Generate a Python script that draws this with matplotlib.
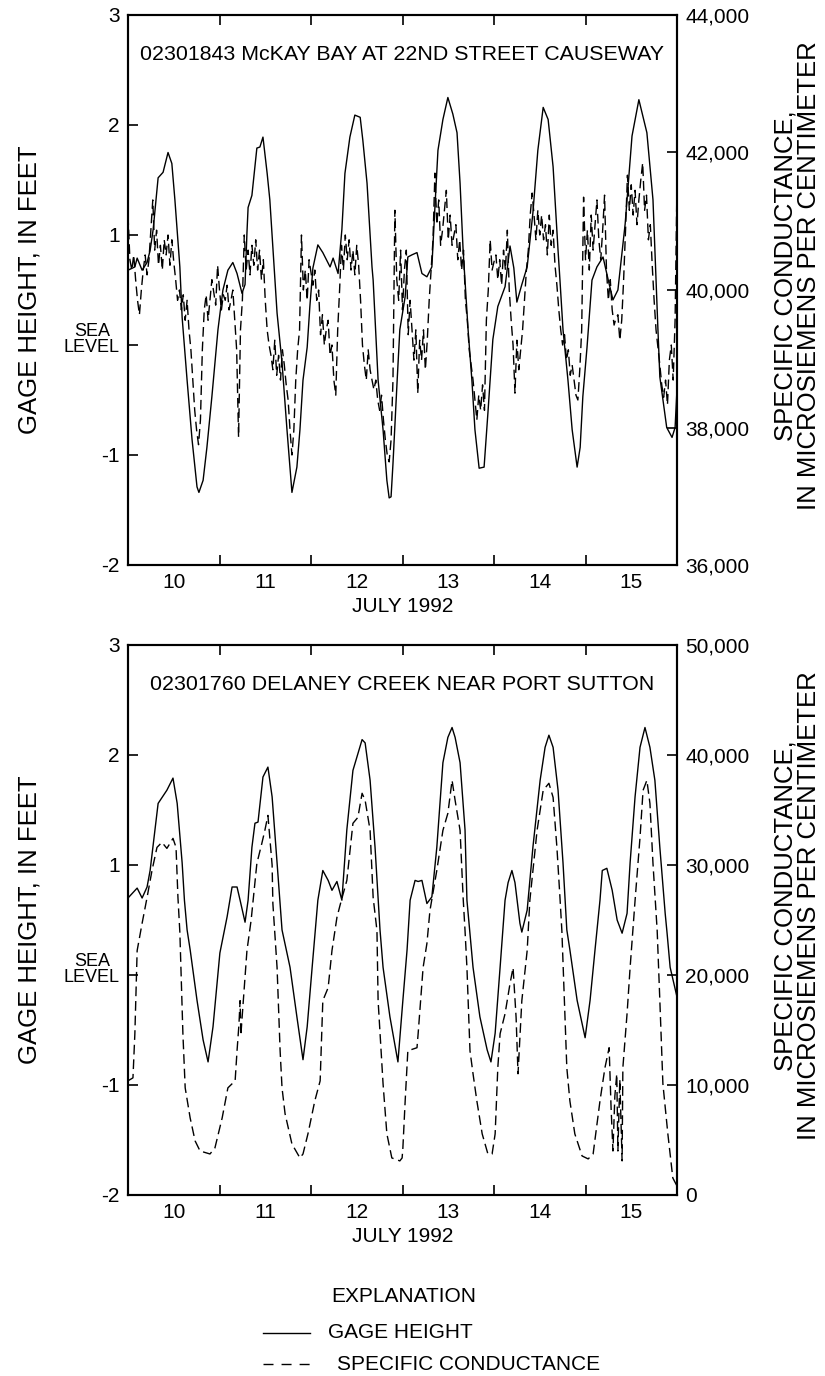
import numpy as np
import matplotlib.pyplot as plt
from matplotlib.lines import Line2D
from matplotlib.ticker import FuncFormatter

plt.rcParams['font.family'] = ['Liberation Sans', 'DejaVu Sans']

# time is hours since 00:00 July 10, 1992
days = ['10', '11', '12', '13', '14', '15']

# 02301843 McKay Bay - gage height (hour, feet)
mckay_gage = [
    (0, 0.68), (1.8, 0.71), (2.4, 0.79), (3.7, 0.68), (5.0, 0.75), (5.8, 0.86),
    (6.6, 1.05), (7.6, 1.41), (7.9, 1.52), (9.2, 1.57), (10.5, 1.75), (11.5, 1.65),
    (12.3, 1.32), (13.6, 0.71), (14.2, 0.25), (15.5, -0.32), (16.8, -0.86),
    (18.1, -1.29), (18.6, -1.34), (19.7, -1.23), (20.7, -0.93), (22.0, -0.47),
    (23.6, 0.14), (24.9, 0.50), (26.2, 0.68), (27.5, 0.75), (28.6, 0.65),
    (29.9, 0.47), (30.7, 0.55), (31.2, 1.02), (31.5, 1.25), (32.5, 1.36),
    (33.8, 1.79), (34.6, 1.80), (35.4, 1.89), (36.5, 1.56), (37.2, 1.32),
    (38.6, 0.56), (39.1, 0.29), (40.4, -0.16), (41.7, -0.77), (43.0, -1.34),
    (44.3, -1.11), (45.1, -0.77), (45.9, -0.32), (47.0, -0.02), (47.7, 0.35),
    (48.5, 0.70), (49.8, 0.91), (51.1, 0.84), (53.0, 0.71), (53.8, 0.79),
    (55.1, 0.65), (56.1, 1.05), (56.9, 1.56), (58.2, 1.89), (59.5, 2.09),
    (60.9, 2.07), (61.6, 1.86), (62.7, 1.47), (64.0, 0.71), (64.3, 0.59),
    (65.6, -0.32), (66.9, -0.77), (67.9, -1.23), (68.5, -1.39), (69.0, -1.38),
    (69.5, -1.08), (70.6, -0.32), (71.3, 0.14), (72.7, 0.44), (73.4, 0.80),
    (74.5, 0.82), (75.8, 0.84), (77.1, 0.65), (78.4, 0.62), (79.7, 0.71),
    (80.5, 1.25), (81.3, 1.77), (82.6, 2.05), (83.9, 2.25), (85.2, 2.10),
    (86.3, 1.93), (87.1, 1.47), (87.9, 0.86), (88.7, 0.41), (89.2, 0.14),
    (90.2, -0.32), (91.0, -0.77), (92.1, -1.12), (93.4, -1.11), (94.4, -0.62),
    (95.7, 0.05), (97.0, 0.35), (98.9, 0.53), (100.2, 0.90), (101.2, 0.70),
    (102.0, 0.39), (103.3, 0.55), (104.7, 0.71), (106.2, 1.20), (107.5, 1.77),
    (108.9, 2.16), (110.2, 2.05), (111.5, 1.62), (112.8, 0.86), (113.3, 0.59),
    (114.1, 0.14), (115.4, -0.32), (116.5, -0.77), (117.8, -1.11), (118.6, -0.93),
    (119.3, -0.47), (120.4, -0.02), (121.2, 0.35), (121.7, 0.59), (123.0, 0.71),
    (124.6, 0.80), (125.9, 0.60), (127.2, 0.41), (128.5, 0.50), (130.4, 1.10),
    (132.2, 1.90), (134.0, 2.23), (136.1, 1.93), (137.7, 1.32), (138.5, 0.59),
    (139.0, 0.14), (139.5, -0.29), (141.3, -0.75), (142.7, -0.84), (143.5, -0.75),
    (144.0, -0.40),
]

# McKay Bay - specific conductance, every half hour from 00:00 July 10
mckay_cond = [
    41090, 40440, 40290, 40510, 40150, 39850, 39640, 40000, 40290, 40510,
    40220, 40440, 40870, 41310, 40580, 40870, 40360, 40650, 40290, 40730,
    40510, 40800, 40360, 40730, 40410, 40150, 39850, 40000, 39710, 39930,
    39560, 39850, 39420, 39130, 38690, 38250, 37960, 37750, 38110, 39130,
    39710, 39930, 39560, 39850, 40150, 39970, 39780, 40360, 40000, 39710,
    39930, 39850, 40070, 39710, 39850, 40000, 39560, 39130, 37860, 39420,
    39850, 40800, 40290, 40580, 40220, 40650, 40360, 40730, 40290, 40580,
    40150, 40440, 39850, 39420, 39200, 39050, 38840, 39270, 38760, 39050,
    38690, 39130, 38910, 38620, 38400, 37960, 37600, 37960, 38690, 39130,
    39420, 40800, 40000, 40290, 39850, 40440, 40260, 40070, 40290, 39850,
    40000, 39350, 39640, 39200, 39420, 39560, 39050, 39200, 38690, 38470,
    39420, 40000, 40650, 40290, 40800, 40440, 40730, 40290, 40580, 40220,
    40650, 40360, 39850, 39200, 38910, 38690, 39130, 38840, 38690, 38550,
    38690, 38400, 38250, 38470, 38110, 37820, 37600, 37500, 37820, 38690,
    41160, 40150, 39850, 40580, 39710, 40290, 40580, 39350, 39850, 39420,
    38980, 39420, 38500, 39270, 38980, 39420, 38840, 39270, 39850, 40290,
    40730, 41700, 40950, 41310, 40650, 40870, 41160, 41450, 40730, 41090,
    40650, 40800, 40950, 40440, 40730, 40290, 40580, 39850, 39560, 39130,
    38910, 38690, 38400, 38110, 38470, 38250, 38620, 38250, 39560, 40000,
    40730, 40290, 40410, 40510, 40150, 40440, 40070, 40580, 40290, 40870,
    40000, 39560, 39200, 38500, 39270, 38840, 39130, 39420, 39850, 40290,
    40580, 41090, 41410, 41090, 40730, 41160, 40800, 41090, 40730, 40950,
    40510, 41090, 40650, 40870, 40360, 40070, 39710, 39420, 39200, 39350,
    38980, 39130, 38760, 38910, 38690, 38470, 38400, 38840, 39420, 41350,
    40440, 40870, 40290, 41090, 40580, 40950, 41310, 40730, 40440, 40870,
    41380, 40290, 39850, 40150, 39710, 39490, 39590, 39640, 39270, 39560,
    40150, 40870, 41670, 41160, 41530, 41090, 41450, 40950, 41310, 41600,
    41850, 41160, 41380, 40730, 40950, 40360, 39850, 39420, 39160, 38910,
    38620, 38440, 38690, 38330, 38980, 39200, 38690, 39560, 41560,
]

# 02301760 Delaney Creek - gage height (hour, feet)
delaney_gage = [
    (0, 0.70), (2.4, 0.79), (3.7, 0.70), (5.0, 0.80), (5.8, 0.95), (7.9, 1.56),
    (10.2, 1.68), (11.8, 1.79), (12.9, 1.56), (14.2, 1.02), (14.8, 0.68),
    (15.5, 0.41), (16.3, 0.23), (18.1, -0.23), (19.7, -0.59), (21.0, -0.79),
    (22.3, -0.47), (24.1, 0.20), (26.0, 0.53), (27.3, 0.80), (28.6, 0.80),
    (29.4, 0.68), (30.7, 0.48), (31.5, 0.68), (32.5, 1.16), (33.3, 1.38),
    (34.1, 1.39), (35.4, 1.80), (36.7, 1.89), (37.8, 1.62), (39.1, 1.02),
    (40.4, 0.41), (42.5, 0.07), (44.3, -0.38), (45.9, -0.77), (47.0, -0.47),
    (48.3, 0.07), (49.8, 0.68), (51.1, 0.95), (52.5, 0.86), (53.5, 0.77),
    (54.8, 0.85), (56.1, 0.68), (57.4, 1.32), (59.0, 1.86), (61.4, 2.14),
    (62.2, 2.11), (63.5, 1.77), (64.8, 1.16), (66.1, 0.41), (66.9, 0.07),
    (68.7, -0.38), (70.8, -0.79), (72.1, -0.23), (73.2, 0.23), (74.0, 0.68),
    (75.3, 0.86), (76.1, 0.85), (77.1, 0.86), (78.4, 0.65), (79.7, 0.71),
    (81.0, 1.16), (82.6, 1.93), (83.9, 2.16), (85.0, 2.25), (85.8, 2.16),
    (87.1, 1.93), (88.4, 1.32), (88.9, 0.68), (90.5, 0.07), (92.3, -0.38),
    (94.2, -0.68), (95.2, -0.79), (96.3, -0.53), (97.6, 0.07), (98.9, 0.68),
    (99.7, 0.84), (100.7, 0.95), (101.5, 0.84), (102.8, 0.47), (103.3, 0.39),
    (104.7, 0.59), (106.2, 1.16), (108.1, 1.77), (109.4, 2.07), (110.4, 2.18),
    (111.5, 2.07), (112.8, 1.68), (114.1, 1.02), (115.1, 0.41), (115.9, 0.23),
    (117.8, -0.23), (119.9, -0.57), (121.2, -0.23), (122.5, 0.23), (123.8, 0.68),
    (124.4, 0.95), (125.6, 0.97), (127.0, 0.77), (128.3, 0.50), (129.6, 0.38),
    (130.9, 0.56), (131.7, 1.02), (133.0, 1.62), (134.3, 2.07), (135.6, 2.25),
    (136.9, 2.07), (138.2, 1.77), (139.5, 1.16), (140.9, 0.56), (141.4, 0.38),
    (142.2, 0.07), (143.0, -0.05), (144.0, -0.20),
]

# Delaney Creek - specific conductance (hour, microsiemens per centimeter)
delaney_cond = [
    (0, 10380), (1.3, 10650), (1.8, 14660), (2.4, 22220), (3.7, 24700),
    (5.0, 27050), (6.3, 29510), (7.6, 31600), (8.9, 32060), (10.2, 31510),
    (11.8, 32420), (12.6, 31600), (13.1, 27050), (13.6, 23900), (14.4, 14660),
    (15.0, 9740), (16.3, 7010), (17.6, 4920), (18.9, 4000), (21.5, 3730),
    (22.8, 4280), (24.7, 7010), (26.2, 9740), (28.1, 10380), (28.6, 13110),
    (29.1, 15500), (29.4, 17670), (29.6, 14500), (29.9, 16000), (31.2, 22220),
    (32.3, 25000), (33.8, 30140), (35.1, 31960), (35.9, 33150), (36.7, 34510),
    (37.2, 32510), (37.8, 30000), (38.0, 26500), (39.1, 20670), (39.9, 13110),
    (40.4, 9740), (41.2, 7380), (43.0, 4640), (45.1, 3370), (45.9, 3730),
    (47.2, 5560), (49.0, 8560), (50.4, 10380), (51.1, 17670), (52.5, 18850),
    (53.5, 22220), (54.8, 25230), (55.6, 26320), (57.4, 28600), (59.0, 33790),
    (60.3, 34330), (61.4, 36520), (62.2, 35880), (63.5, 33150), (64.3, 27050),
    (65.3, 24040), (65.6, 17670), (66.9, 10110), (67.9, 5560), (69.2, 3370),
    (71.3, 3100), (71.9, 3370), (72.1, 4280), (72.7, 8560), (73.4, 13110),
    (75.8, 13390), (76.1, 14660), (77.4, 20670), (78.4, 22860), (79.2, 25860),
    (81.0, 29510), (82.6, 33150), (83.9, 34700), (85.0, 37700), (85.8, 35880),
    (87.1, 33150), (87.9, 27050), (88.4, 24040), (88.9, 20670), (89.7, 13110),
    (90.5, 11020), (91.5, 8560), (92.9, 5560), (94.4, 3730), (95.5, 3730),
    (96.3, 5560), (97.0, 11570), (97.6, 14660), (98.9, 16480), (100.2, 19210),
    (101.0, 20670), (101.8, 16120), (102.3, 11020), (103.3, 17670), (104.7, 22220),
    (105.4, 26770), (107.3, 33150), (108.9, 36790), (110.4, 37430), (111.5, 36150),
    (112.5, 31600), (113.3, 27050), (113.8, 24040), (115.1, 11570), (115.9, 8560),
    (117.2, 5560), (119.1, 3550), (120.7, 3280), (122.0, 3730), (123.8, 8560),
    (125.1, 11570), (126.2, 13390), (126.7, 8000), (127.2, 4000), (127.7, 9000),
    (128.2, 11000), (128.5, 4000), (129.0, 10500), (129.6, 3100), (129.8, 11570),
    (130.9, 16480), (131.7, 20670), (133.0, 26770), (134.3, 32510), (135.1, 36790),
    (136.1, 37700), (136.9, 35600), (137.7, 30140), (138.8, 24040), (139.5, 17670),
    (140.3, 10110), (141.6, 5560), (142.9, 1550), (144.0, 820),
]

W, H = 825, 1376
fig = plt.figure(figsize=(W / 100, H / 100), dpi=100)

solid_kw = dict(color='black', lw=1.0)
dash_kw = dict(color='black', lw=1.0, dashes=(7, 3.5))


def panel(top_px, title, gage, cond_t, cond_v, cond_lim, cond_step):
    ax = fig.add_axes([128 / W, 1 - (top_px + 550) / H, 549 / W, 550 / H])
    ax2 = ax.twinx()

    t, g = zip(*gage)
    ax.plot(t, g, **solid_kw)
    ax2.plot(cond_t, cond_v, **dash_kw)

    ax.set_xlim(0, 144)
    ax.set_ylim(-2, 3)
    ax2.set_ylim(*cond_lim)

    # day boundaries get ticks, day names sit at noon
    ax.set_xticks(range(0, 145, 24))
    ax.set_xticklabels([])
    ax.set_xticks([12 + 24 * i for i in range(6)], minor=True)
    ax.set_xticklabels(days, minor=True, fontsize=15)
    ax.tick_params(axis='x', which='major', direction='in', top=True, length=7, width=1.2)
    ax.tick_params(axis='x', which='minor', length=0, pad=6)
    ax.set_xlabel('JULY 1992', fontsize=15, labelpad=3)

    ax.set_yticks([-2, -1, 0, 1, 2, 3])
    ax.set_yticklabels(['-2', '-1', '', '1', '2', '3'], fontsize=15)
    ax.tick_params(axis='y', direction='in', length=7, width=1.2, pad=6)
    ax.text(-0.015, 0.05, 'SEA\nLEVEL', transform=ax.get_yaxis_transform(),
            ha='right', va='center', multialignment='center',
            fontsize=13, linespacing=0.85)

    ax2.set_yticks(np.arange(cond_lim[0], cond_lim[1] + 1, cond_step))
    ax2.yaxis.set_major_formatter(FuncFormatter(lambda v, p: f'{int(v):,}'))
    ax2.tick_params(axis='y', direction='in', length=7, width=1.2, pad=6, labelsize=15)

    for a in (ax, ax2):
        for s in a.spines.values():
            s.set_linewidth(1.5)

    ax.text(72, 2.64, title, ha='center', va='center', fontsize=15.4)

    mid = 1 - (top_px + 275) / H
    fig.text(30 / W, mid, 'GAGE HEIGHT, IN FEET', rotation=90,
             ha='center', va='center', fontsize=18.5)
    fig.text(797 / W, mid + 14 / H, 'SPECIFIC CONDUCTANCE,\nIN MICROSIEMENS PER CENTIMETER',
             rotation=90, ha='center', va='center', fontsize=18.5, linespacing=1.0)
    return ax


mckay_t = np.arange(len(mckay_cond)) * 0.5
panel(15, '02301843 McKAY BAY AT 22ND STREET CAUSEWAY', mckay_gage,
      mckay_t, mckay_cond, (36000, 44000), 2000)

dt, dv = zip(*delaney_cond)
panel(645, '02301760 DELANEY CREEK NEAR PORT SUTTON', delaney_gage,
      dt, dv, (0, 50000), 10000)

# explanation
fig.text(404 / W, 1 - 1297 / H, 'EXPLANATION', ha='center', va='center', fontsize=15)
fig.add_artist(Line2D([263 / W, 310 / W], [1 - 1333 / H] * 2, **solid_kw))
fig.text(328 / W, 1 - 1333 / H, 'GAGE HEIGHT', ha='left', va='center', fontsize=15)
fig.add_artist(Line2D([263 / W, 310 / W], [1 - 1364 / H] * 2, color='black', lw=1.0,
                      dashes=(7.2, 5.8)))
fig.text(337 / W, 1 - 1364 / H, 'SPECIFIC CONDUCTANCE', ha='left', va='center', fontsize=15)

fig.savefig('out.png', dpi=100)
